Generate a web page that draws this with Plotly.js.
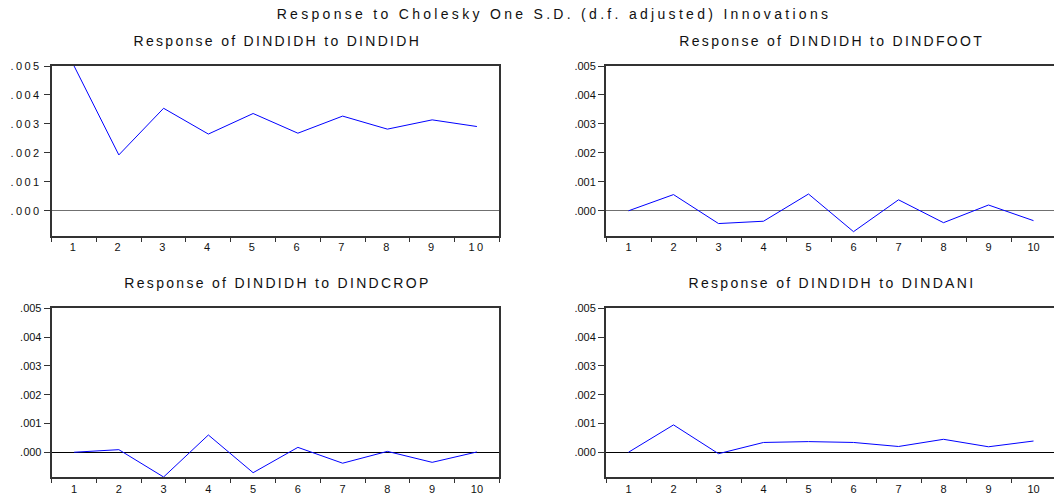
<!DOCTYPE html>
<html>
<head>
<meta charset="utf-8">
<script src="https://cdn.plot.ly/plotly-3.0.1.min.js"></script>
<style>
  html, body { margin: 0; padding: 0; background: #fff; overflow: hidden; }
  #chart { width: 1056px; height: 494px; }
  #chart svg .gtitle { letter-spacing: 3.3px; }
  #chart svg .annotation-text { letter-spacing: 2.3px; }
  #chart svg .xtick text, #chart svg .ytick text { letter-spacing: 2.4px; }
</style>
</head>
<body>
<div id="chart"></div>
<script>
// ---- data ----
const periods = ['1', '2', '3', '4', '5', '6', '7', '8', '9', '10'];
const respDINDIDH  = [0.00500, 0.00193, 0.00354, 0.00265, 0.00336, 0.00268, 0.00327, 0.00282, 0.00314, 0.00291];
const respDINDFOOT = [0.00000, 0.00056, -0.00044, -0.00036, 0.00058, -0.00072, 0.00038, -0.00041, 0.00020, -0.00034];
const respDINDCROP = [0.00000, 0.00009, -0.00086, 0.00060, -0.00071, 0.00017, -0.00038, 0.00003, -0.00035, 0.00001];
const respDINDANI  = [0.00000, 0.00095, -0.00005, 0.00034, 0.00037, 0.00034, 0.00020, 0.00045, 0.00019, 0.00039];
const panelTitles = [
  'Response of DINDIDH to DINDIDH',
  'Response of DINDIDH to DINDFOOT',
  'Response of DINDIDH to DINDCROP',
  'Response of DINDIDH to DINDANI'
];
const mainTitle = 'Response to Cholesky One S.D. (d.f. adjusted) Innovations';
const yTickVals = [0, 0.001, 0.002, 0.003, 0.004, 0.005];
const yTickText = ['.000', '.001', '.002', '.003', '.004', '.005'];

// ---- layout ----
const W = 1056, H = 494;
const series = [respDINDIDH, respDINDFOOT, respDINDCROP, respDINDANI];
const xDomains = [[51.7 / W, 499.3 / W], [606 / W, 1]];
const yDomains = [[1 - 236 / H, 1 - 66 / H], [1 - 477.3 / H, 1 - 308.3 / H]];
const titleY = [41, 283];
const titleX = [277, 832];
const zeroColors = ['#707070', '#707070', '#000000', '#000000'];

const font = 'Arial, "Liberation Sans", sans-serif';
const traces = [];
const layout = {
  width: W, height: H,
  margin: {l: 0, r: 0, t: 0, b: 0},
  paper_bgcolor: '#ffffff',
  plot_bgcolor: '#ffffff',
  showlegend: false,
  font: {family: font, color: '#111', size: 11},
  title: {
    text: mainTitle,
    x: 554 / W, xanchor: 'center',
    y: 1 - 14 / H, yanchor: 'middle',
    font: {family: font, size: 14, color: '#111'}
  },
  annotations: []
};

series.forEach((vals, i) => {
  const row = Math.floor(i / 2), col = i % 2;
  const n = i + 1;
  const sfx = n === 1 ? '' : String(n);
  traces.push({
    type: 'scatter', mode: 'lines',
    x: periods, y: vals,
    xaxis: 'x' + sfx, yaxis: 'y' + sfx,
    line: {color: '#0000ff', width: 1},
    hoverinfo: 'x+y'
  });
  layout['xaxis' + sfx] = {
    domain: xDomains[col],
    anchor: 'y' + sfx,
    type: 'category',
    range: [-0.5, 9.5],
    tickson: 'boundaries',
    ticks: 'outside', ticklen: 4, tickwidth: 1, tickcolor: '#333',
    showgrid: false, zeroline: false,
    showline: true, linewidth: 2, linecolor: '#333', mirror: true,
    tickfont: {family: font, size: 11, color: '#111'},
    fixedrange: true
  };
  layout['yaxis' + sfx] = {
    domain: yDomains[row],
    anchor: 'x' + sfx,
    range: [-0.00087, 0.005],
    tickmode: 'array', tickvals: yTickVals, ticktext: yTickText,
    ticks: 'outside', ticklen: 6, tickwidth: 1, tickcolor: '#333',
    showgrid: false,
    zeroline: true, zerolinecolor: zeroColors[i], zerolinewidth: 1,
    showline: true, linewidth: 2, linecolor: '#333', mirror: true,
    tickfont: {family: font, size: 11, color: '#111'},
    fixedrange: true
  };
  layout.annotations.push({
    text: panelTitles[i],
    xref: 'paper', yref: 'paper',
    x: titleX[col] / W, y: 1 - titleY[row] / H,
    xanchor: 'center', yanchor: 'middle',
    showarrow: false,
    font: {family: font, size: 14, color: '#111'}
  });
});

Plotly.newPlot('chart', traces, layout, {displayModeBar: false, staticPlot: true});
</script>
</body>
</html>
